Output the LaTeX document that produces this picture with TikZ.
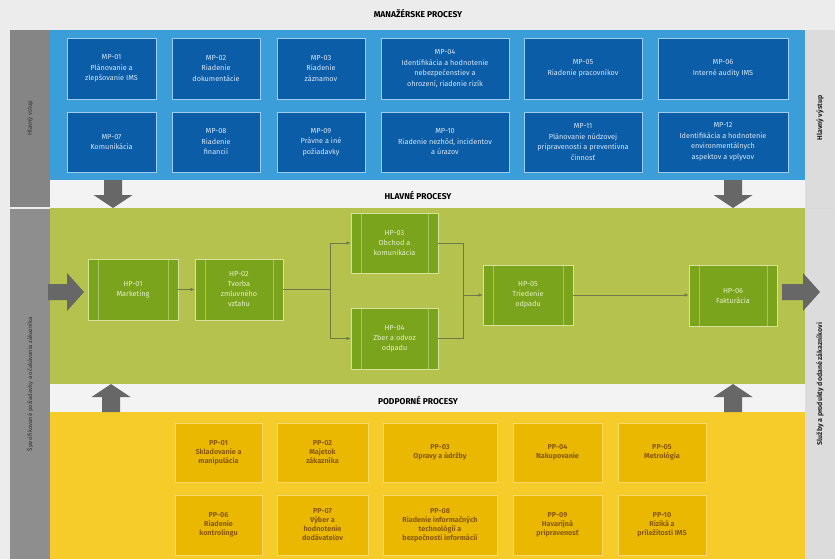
\documentclass[tikz,border=0pt]{standalone}
\usepackage{fontspec}
\setmainfont{Fira Sans}
\usetikzlibrary{arrows.meta}
\definecolor{pagebg}{HTML}{ECECEC}
\definecolor{stripbg}{HTML}{F3F3F3}
\definecolor{sidebar}{HTML}{8E8E8E}
\definecolor{sidebartop}{HTML}{858585}
\definecolor{rightbar}{HTML}{DCDCDC}
\definecolor{mppanel}{HTML}{3C9ED8}
\definecolor{mpfill}{HTML}{0B5DA8}
\definecolor{mpborder}{HTML}{9CCDEE}
\definecolor{mptext}{HTML}{D6E6F5}
\definecolor{hppanel}{HTML}{B6C24E}
\definecolor{hpfill}{HTML}{7BA41D}
\definecolor{hpborder}{HTML}{D9E29A}
\definecolor{hpline}{HTML}{A9C45A}
\definecolor{hptext}{HTML}{E6EFC6}
\definecolor{pppanel}{HTML}{F5CC2A}
\definecolor{ppfill}{HTML}{EAB800}
\definecolor{ppborder}{HTML}{F7DA6A}
\definecolor{pptext}{HTML}{8A5A00}
\definecolor{bigarrow}{HTML}{676767}
\definecolor{flow}{HTML}{6E7A48}
\tikzset{
  mpbox/.style={draw=mpborder, line width=0.8pt, fill=mpfill, text=mptext,
    font=\fontsize{7.3}{10.5}\selectfont, align=center, inner sep=2pt},
  hpbox/.style={draw=hpborder, line width=0.9pt, fill=hpfill, text=hptext,
    font=\fontsize{7.3}{10}\selectfont, align=center, inner sep=2pt,
    path picture={
      \draw[hpline, line width=0.6pt]
        ([xshift=10pt]path picture bounding box.north west) --
        ([xshift=10pt]path picture bounding box.south west);
      \draw[hpline, line width=0.6pt]
        ([xshift=-10pt]path picture bounding box.north east) --
        ([xshift=-10pt]path picture bounding box.south east);
    }},
  ppbox/.style={draw=ppborder, line width=1pt, fill=ppfill, text=pptext,
    font=\bfseries\fontsize{7.2}{9}\selectfont, align=center, inner sep=2pt},
  sectitle/.style={font=\bfseries\fontsize{8.5}{10}\selectfont, text=black},
  sidetext/.style={font=\fontsize{6}{7}\selectfont, text=black!80, rotate=90},
  rsidetext/.style={font=\bfseries\fontsize{7}{8}\selectfont, text=black!85, rotate=90},
  flowline/.style={draw=flow, line width=0.45pt},
  flowarrow/.style={flowline, -{Latex[length=4pt,width=3.5pt]}},
  blockarrow/.style={fill=bigarrow}
}
\begin{document}
\begin{tikzpicture}[x=1pt,y=-1pt]
\useasboundingbox (0,0) rectangle (835,559);
\fill[pagebg] (0,0) rectangle (835,559);
% side bars
\fill[sidebartop] (10,30) rectangle (50,207);
\fill[sidebar] (10,209) rectangle (50,559);
\fill[rightbar] (805,30) rectangle (835,559);
\draw[white!70!gray, line width=0.8pt] (805,208) -- (835,208);
% panels and strips
\fill[mppanel] (50,30) rectangle (805,180);
\fill[stripbg] (50,180) rectangle (805,208);
\fill[hppanel] (50,208) rectangle (805,384);
\fill[stripbg] (50,384) rectangle (805,412);
\fill[pppanel] (50,412) rectangle (805,559);
% section titles
\node[sectitle] (t1) at (418,14) {MANAŽÉRSKE PROCESY};
\node[sectitle] (t2) at (418,196) {HLAVNÉ PROCESY};
\node[sectitle] (t3) at (418,401) {PODPORNÉ PROCESY};
% side texts
\node[sidetext] (s1) at (30,118) {Hlavný vstup};
\node[sidetext] (s2) at (30,384) {Špecifikované požiadavky a očakávania zákazníka};
\node[rsidetext] (s3) at (820,118) {Hlavný výstup};
\node[rsidetext] (s4) at (820,384) {Služby a produkty dodané zákazníkovi};
% management processes
\node[mpbox, minimum width=89pt, minimum height=61pt] (mp01) at (111.5,68.5) {MP-01\\Plánovanie a\\zlepšovanie IMS};
\node[mpbox, minimum width=88pt, minimum height=61pt] (mp02) at (216,68.5) {MP-02\\Riadenie\\dokumentácie};
\node[mpbox, minimum width=88pt, minimum height=61pt] (mp03) at (321,68.5) {MP-03\\Riadenie\\záznamov};
\node[mpbox, minimum width=128pt, minimum height=61pt] (mp04) at (445,68.5) {MP-04\\Identifikácia a hodnotenie\\nebezpečenstiev a\\ohrození, riadenie rizík};
\node[mpbox, minimum width=118pt, minimum height=61pt] (mp05) at (583,68.5) {MP-05\\Riadenie pracovníkov};
\node[mpbox, minimum width=130pt, minimum height=61pt] (mp06) at (723,68.5) {MP-06\\Interné audity IMS};
\node[mpbox, minimum width=89pt, minimum height=60pt] (mp07) at (111.5,142) {MP-07\\Komunikácia};
\node[mpbox, minimum width=88pt, minimum height=60pt] (mp08) at (216,142) {MP-08\\Riadenie\\financií};
\node[mpbox, minimum width=88pt, minimum height=60pt] (mp09) at (321,142) {MP-09\\Právne a iné\\požiadavky};
\node[mpbox, minimum width=128pt, minimum height=60pt] (mp10) at (445,142) {MP-10\\Riadenie nezhôd, incidentov\\a úrazov};
\node[mpbox, minimum width=118pt, minimum height=60pt] (mp11) at (583,142) {MP-11\\Plánovanie núdzovej\\pripravenosti a preventívna\\činnosť};
\node[mpbox, minimum width=130pt, minimum height=60pt] (mp12) at (723,142) {MP-12\\Identifikácia a hodnotenie\\environmentálnych\\aspektov a vplyvov};
% main processes
\node[hpbox, minimum width=90pt, minimum height=61pt] (hp01) at (133,289.5) {HP-01\\Marketing};
\node[hpbox, minimum width=88pt, minimum height=61pt] (hp02) at (239,289.5) {HP-02\\Tvorba\\zmluvného\\vzťahu};
\node[hpbox, minimum width=87pt, minimum height=60pt] (hp03) at (394.5,243) {HP-03\\Obchod a\\komunikácia};
\node[hpbox, minimum width=87pt, minimum height=61pt] (hp04) at (394.5,338.5) {HP-04\\Zber a odvoz\\odpadu};
\node[hpbox, minimum width=90pt, minimum height=60pt] (hp05) at (528,295) {HP-05\\Triedenie\\odpadu};
\node[hpbox, minimum width=88pt, minimum height=61pt] (hp06) at (733,296) {HP-06\\Fakturácia};
% flow connectors
\coordinate (split) at (330,289.5);
\coordinate (merge) at (463,295);
\draw[flowarrow] (hp01.east) -- (hp02.west);
\draw[flowline] (hp02.east) -- (split);
\draw[flowarrow] (split) |- (hp03.west);
\draw[flowarrow] (split) |- (hp04.west);
\draw[flowline] (hp03.east) -| (merge);
\draw[flowline] (hp04.east) -| (merge);
\draw[flowarrow] (merge) -- (hp05.west);
\draw[flowarrow] (hp05.east) -- (hp05.east -| hp06.west);
% support processes
\node[ppbox, minimum width=87pt, minimum height=59pt] (pp01) at (218.5,452.5) {PP-01\\Skladovanie a\\manipulácia};
\node[ppbox, minimum width=91pt, minimum height=59pt] (pp02) at (322.5,452.5) {PP-02\\Majetok\\zákazníka};
\node[ppbox, minimum width=114pt, minimum height=59pt] (pp03) at (440,452.5) {PP-03\\Opravy a údržby};
\node[ppbox, minimum width=89pt, minimum height=59pt] (pp04) at (557.5,452.5) {PP-04\\Nakupovanie};
\node[ppbox, minimum width=88pt, minimum height=59pt] (pp05) at (662,452.5) {PP-05\\Metrológia};
\node[ppbox, minimum width=87pt, minimum height=60pt] (pp06) at (218.5,525) {PP-06\\Riadenie\\kontrolingu};
\node[ppbox, minimum width=91pt, minimum height=60pt] (pp07) at (322.5,525) {PP-07\\Výber a\\hodnotenie\\dodávateľov};
\node[ppbox, minimum width=114pt, minimum height=60pt] (pp08) at (440,525) {PP-08\\Riadenie informačných\\technológií a\\bezpečnosti informácií};
\node[ppbox, minimum width=89pt, minimum height=60pt] (pp09) at (557.5,525) {PP-09\\Havarijná\\pripravenosť};
\node[ppbox, minimum width=88pt, minimum height=60pt] (pp10) at (662,525) {PP-10\\Riziká a\\príležitosti IMS};
% block arrows (down)
\fill[blockarrow] (104,180) -- (122,180) -- (122,195) -- (132.5,195) -- (113,208) -- (93.5,195) -- (104,195) -- cycle;
\fill[blockarrow] (724,180) -- (742,180) -- (742,195) -- (752.5,195) -- (733,208) -- (713.5,195) -- (724,195) -- cycle;
% block arrows (up)
\fill[blockarrow] (102,412) -- (120,412) -- (120,397) -- (130.5,397) -- (111,384) -- (91.5,397) -- (102,397) -- cycle;
\fill[blockarrow] (724,412) -- (742,412) -- (742,397) -- (752.5,397) -- (733,384) -- (713.5,397) -- (724,397) -- cycle;
% block arrows (left in, right out)
\fill[blockarrow] (48,284) -- (67,284) -- (67,273) -- (84,292) -- (67,311) -- (67,300) -- (48,300) -- cycle;
\fill[blockarrow] (782,284) -- (803,284) -- (803,273) -- (820,292) -- (803,311) -- (803,300) -- (782,300) -- cycle;
\end{tikzpicture}
\end{document}
